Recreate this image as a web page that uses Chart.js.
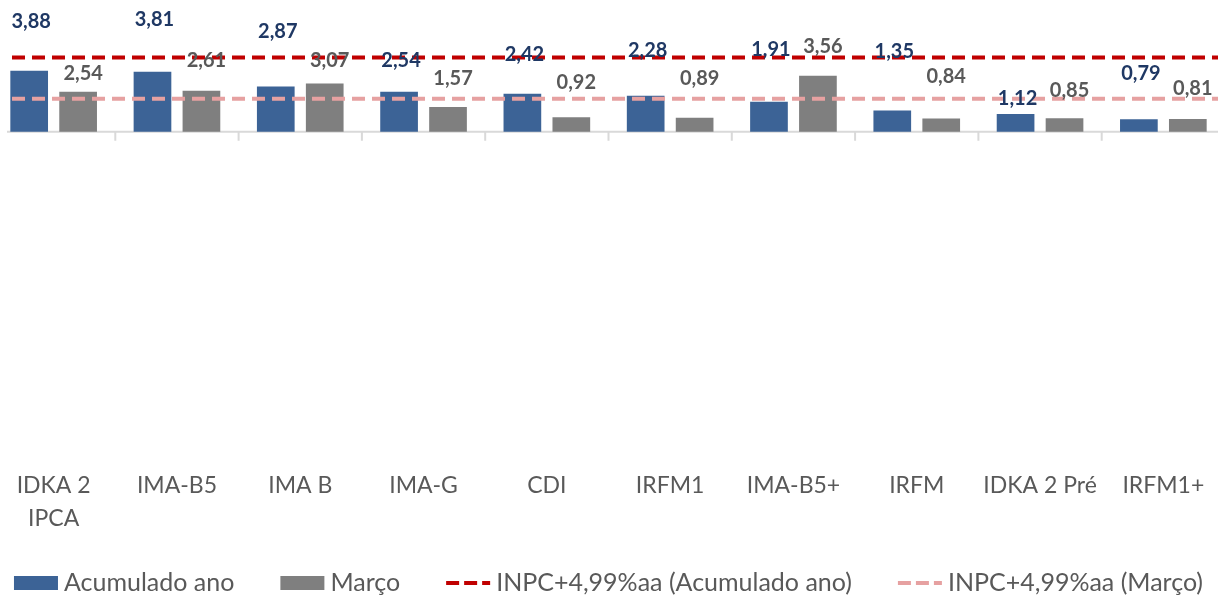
<!DOCTYPE html>
<html lang="pt-BR">
<head>
<meta charset="utf-8">
<title>Rentabilidade dos índices</title>
<script src="https://cdn.jsdelivr.net/npm/chart.js@4.4.1/dist/chart.umd.min.js"></script>
<style>
  html, body { margin: 0; padding: 0; background: #ffffff; overflow: hidden; }
  body { width: 1221px; height: 596px; position: relative; }
  #wrap { position: absolute; left: -8px; top: 0; width: 1233px; height: 596px; }
</style>
</head>
<body>
<div id="wrap"><canvas id="chart"></canvas></div>
<script>
// Índices de renda fixa
const categories = [['IDKA 2', 'IPCA'], 'IMA-B5', 'IMA B', 'IMA-G', 'CDI', 'IRFM1', 'IMA-B5+', 'IRFM', 'IDKA 2 Pré', 'IRFM1+'];

// Rentabilidade (%)
const acumuladoAno = [3.88, 3.81, 2.87, 2.54, 2.42, 2.28, 1.91, 1.35, 1.12, 0.79];
const marco = [2.54, 2.61, 3.07, 1.57, 0.92, 0.89, 3.56, 0.84, 0.85, 0.81];

// Meta atuarial INPC + 4,99% a.a.
const metaAcumulado = 4.72;
const metaMarco = 2.10;

const seriesNames = ['Acumulado ano', 'Março', 'INPC+4,99%aa (Acumulado ano)', 'INPC+4,99%aa (Março)'];

const fmt = v => v.toFixed(2).replace('.', ',');

// Bars sit on integer positions of a linear x axis (one slot per index)
const toPoints = arr => arr.map((v, i) => ({ x: i, y: v }));
const firstSlot = -0.5;
const lastSlot = categories.length - 0.5;
const spanAll = v => [{ x: firstSlot, y: v }, { x: lastSlot, y: v }];

// Horizontal axis line at zero with small separators between categories
const zeroAxis = {
  id: 'zeroAxis',
  beforeDatasetsDraw(chart, args, opts) {
    const { ctx, scales, chartArea } = chart;
    const y0 = scales.y.getPixelForValue(0);
    const xs = scales.x;
    ctx.save();
    ctx.strokeStyle = opts.color;
    ctx.lineWidth = opts.width;
    ctx.beginPath();
    ctx.moveTo(chartArea.left + opts.insetLeft, y0);
    ctx.lineTo(chartArea.right - opts.insetRight, y0);
    for (let i = 1; i < categories.length; i++) {
      const xb = xs.getPixelForValue(i - 0.5);
      ctx.moveTo(xb, y0);
      ctx.lineTo(xb, y0 + opts.tick);
    }
    ctx.stroke();
    ctx.restore();
  }
};

// Value labels above the bars
const valueLabels = {
  id: 'valueLabels',
  afterDatasetsDraw(chart, args, opts) {
    const ctx = chart.ctx;
    ctx.save();
    ctx.textAlign = 'center';
    ctx.textBaseline = 'middle';
    ctx.font = opts.font;
    opts.series.forEach(s => {
      const meta = chart.getDatasetMeta(s.dataset);
      const values = chart.data.datasets[s.dataset].data;
      ctx.fillStyle = s.color;
      meta.data.forEach((bar, i) => {
        ctx.fillText(fmt(values[i].y), bar.x + s.dx, bar.y - s.lift[i]);
      });
    });
    ctx.restore();
  }
};

// Single-row legend along the bottom edge
const bottomLegend = {
  id: 'bottomLegend',
  afterDraw(chart, args, opts) {
    const ctx = chart.ctx;
    const ds = chart.data.datasets;
    ctx.save();
    ctx.font = opts.font;
    const widths = ds.map(d => opts.symbolWidth + opts.symbolGap + ctx.measureText(d.label).width);
    const total = widths.reduce((a, b) => a + b, 0) + opts.itemGap * (ds.length - 1);
    let x = (chart.width - total) / 2;
    const y = chart.height - opts.bottom;
    ds.forEach((d, i) => {
      if (d.type === 'line') {
        ctx.save();
        ctx.strokeStyle = d.borderColor;
        ctx.lineWidth = d.borderWidth;
        ctx.setLineDash(opts.dash);
        ctx.beginPath();
        ctx.moveTo(x, y);
        ctx.lineTo(x + opts.symbolWidth, y);
        ctx.stroke();
        ctx.restore();
      } else {
        ctx.fillStyle = d.backgroundColor;
        ctx.fillRect(x, y - opts.boxHeight / 2, opts.symbolWidth, opts.boxHeight);
      }
      ctx.fillStyle = opts.color;
      ctx.textAlign = 'left';
      ctx.textBaseline = 'middle';
      ctx.fillText(d.label, x + opts.symbolWidth + opts.symbolGap, y);
      x += widths[i] + opts.itemGap;
    });
    ctx.restore();
  }
};

function draw() {
  const lineClip = { left: -18, right: -7, top: false, bottom: false };
  new Chart(document.getElementById('chart'), {
    type: 'bar',
    data: {
      datasets: [
        {
          label: seriesNames[0],
          data: toPoints(acumuladoAno),
          backgroundColor: '#3c6396',
          categoryPercentage: 0.794,
          barPercentage: 0.77
        },
        {
          label: seriesNames[1],
          data: toPoints(marco),
          backgroundColor: '#7f7f7f',
          categoryPercentage: 0.794,
          barPercentage: 0.77
        },
        {
          type: 'line',
          label: seriesNames[2],
          data: spanAll(metaAcumulado),
          borderColor: '#c00000',
          borderWidth: 4,
          borderDash: [13, 7],
          pointRadius: 0,
          clip: lineClip,
          order: -1
        },
        {
          type: 'line',
          label: seriesNames[3],
          data: spanAll(metaMarco),
          borderColor: '#e6a1a1',
          borderWidth: 4,
          borderDash: [13, 7],
          pointRadius: 0,
          clip: lineClip,
          order: -1
        }
      ]
    },
    options: {
      responsive: true,
      maintainAspectRatio: false,
      animation: false,
      layout: { padding: { top: 5, bottom: 61, left: 0, right: 0 } },
      scales: {
        x: {
          type: 'linear',
          position: 'bottom',
          min: firstSlot,
          max: lastSlot,
          bounds: 'data',
          offset: false,
          grid: { display: false },
          border: { display: false },
          afterBuildTicks: scale => {
            scale.ticks = categories.map((_, i) => ({ value: i }));
          },
          ticks: {
            color: '#595959',
            font: { family: 'Lato', size: 23, lineHeight: 1.42 },
            padding: 0,
            maxRotation: 0,
            autoSkip: false,
            callback: value => categories[value]
          }
        },
        y: { type: 'linear', display: false, bounds: 'data', min: -21, max: 8.06 }
      },
      plugins: {
        legend: { display: false },
        tooltip: { enabled: false },
        zeroAxis: { color: '#d9d9d9', width: 2, tick: 9, insetLeft: 15, insetRight: 7 },
        valueLabels: {
          font: 'bold 20px Lato',
          series: [
            { dataset: 0, color: '#1f3864', dx: 2, lift: [49, 52, 55, 31, 39, 45, 52, 59, 16, 46] },
            { dataset: 1, color: '#595959', dx: 5, lift: [18, 30, 23, 28, 35, 39, 29, 42, 28, 30] }
          ]
        },
        bottomLegend: {
          font: '25px Lato',
          color: '#595959',
          symbolWidth: 44,
          symbolGap: 6,
          itemGap: 46,
          boxHeight: 14,
          bottom: 13,
          dash: [13, 5]
        }
      }
    },
    plugins: [zeroAxis, valueLabels, bottomLegend]
  });
}

Promise.all([
  document.fonts.load('23px Lato'),
  document.fonts.load('bold 20px Lato')
]).then(draw, draw);
</script>
</body>
</html>
